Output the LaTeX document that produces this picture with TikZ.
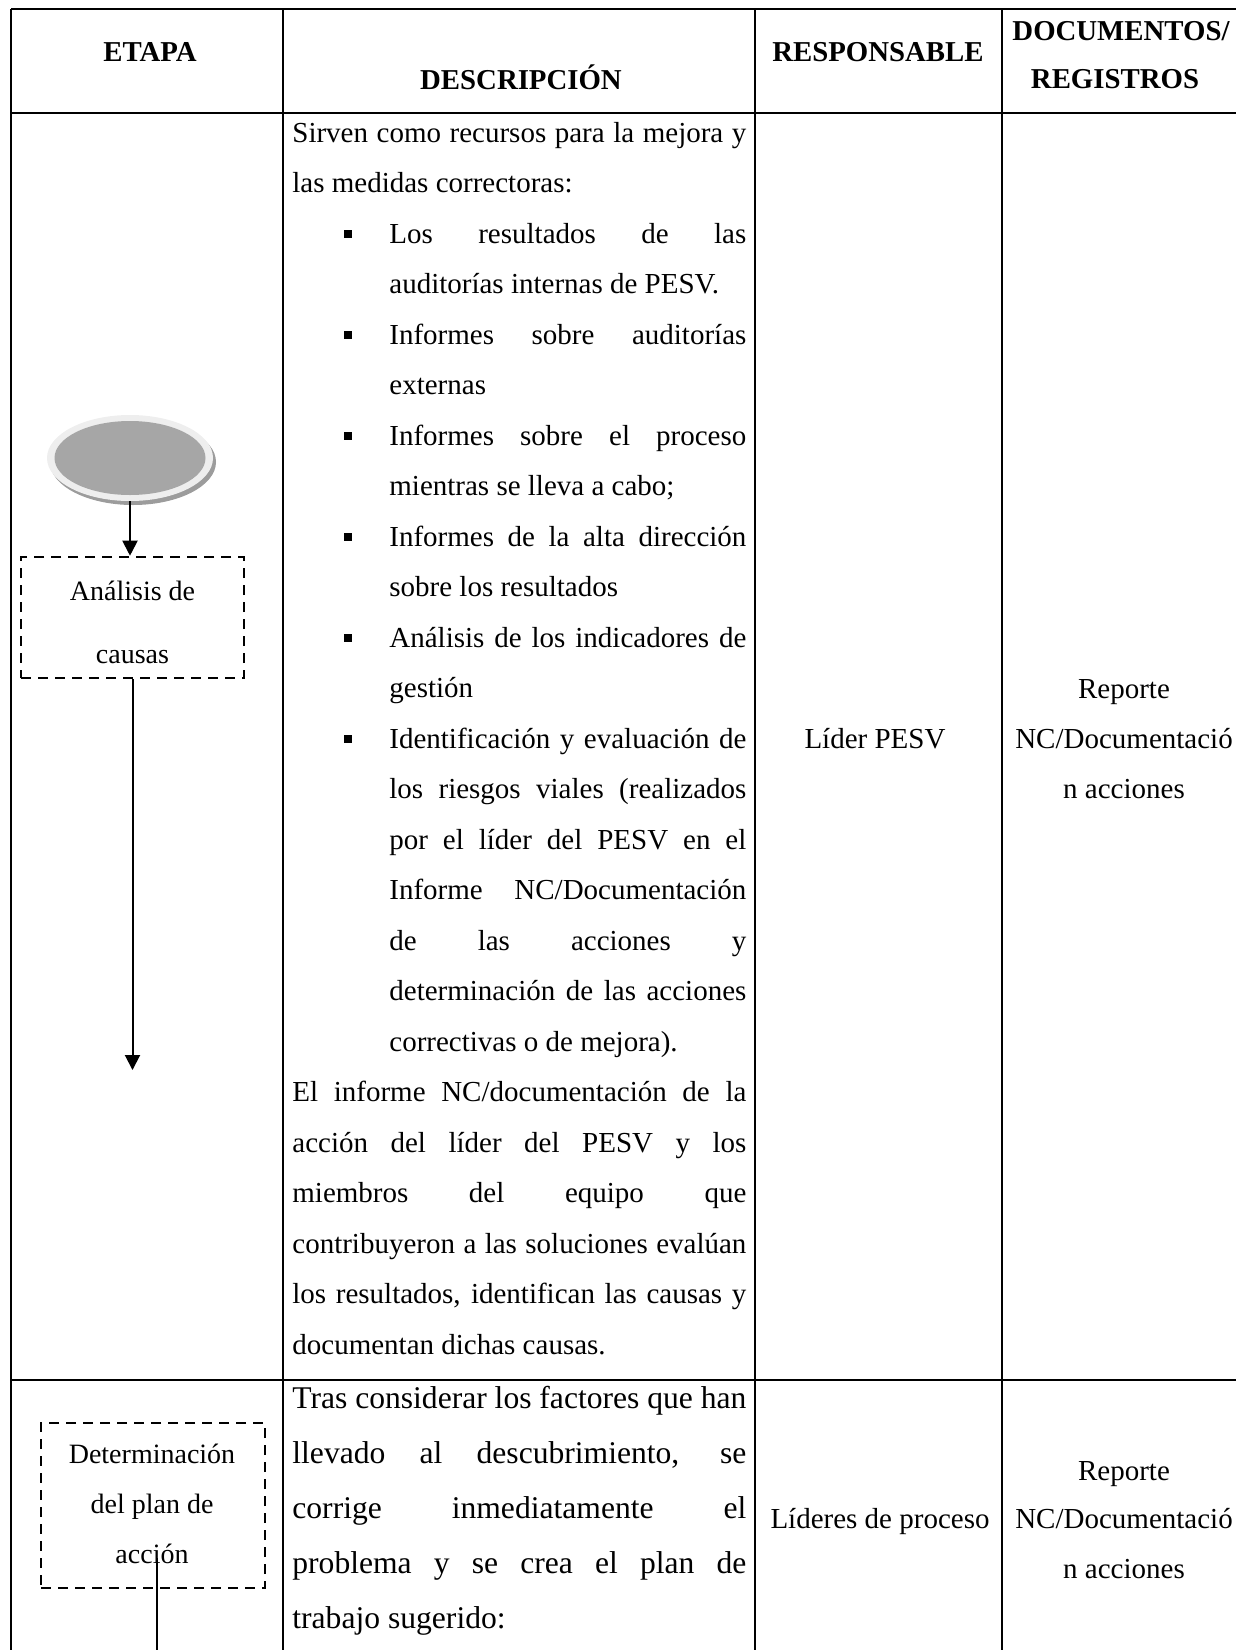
\documentclass[tikz,border=0pt]{standalone}
\usepackage{fontspec}
\setmainfont{Liberation Serif}
\usetikzlibrary{arrows.meta, shapes.geometric, shadows, positioning}
\definecolor{discgray}{HTML}{A6A6A6}
\definecolor{ringgray}{HTML}{EEEEEE}
\definecolor{shadegray}{HTML}{9C9C9C}
\newcommand{\jline}[2]{\makebox[#1][s]{#2}}

\begin{document}
\begin{tikzpicture}[x=0.5pt, y=-0.5pt,
  rule/.style={line width=1.3pt},
  head/.style={anchor=base, inner sep=0pt, font=\fontsize{14.4}{16}\selectfont\bfseries},
  body/.style={anchor=base west, inner sep=0pt, font=\fontsize{14.5}{17}\selectfont},
  bodybig/.style={body, font=\fontsize{15.8}{18}\selectfont},
  mid/.style={anchor=base, inner sep=0pt, font=\fontsize{14.5}{17}\selectfont},
  boxtext/.style={anchor=base, inner sep=0pt, font=\fontsize{14}{17}\selectfont},
  stagebox/.style={draw, line width=1.3pt, dash pattern=on 5pt off 3.5pt, inner sep=0pt},
  bullet/.style={fill, minimum size=4pt, inner sep=0pt},
  flow/.style={line width=1pt, -{Triangle[width=7.5pt,length=7.5pt]}}
]
\useasboundingbox (0,0) rectangle (1236,1650);

% table rules
\draw[rule] (11,9) -- (1245,9);
\draw[rule] (11,113) -- (1245,113);
\draw[rule] (11,1380) -- (1245,1380);
\foreach \xx in {11,283,755,1002}
  \draw[rule] (\xx,9) -- (\xx,1660);

% header
\node[head] (hEtapa) at (150,61) {ETAPA};
\node[head] (hDesc) at (521,89) {DESCRIPCIÓN};
\node[head] (hResp) at (878,61) {RESPONSABLE};
\node[head] (hDoc) at (1121,40) {DOCUMENTOS/};
\node[head] (hReg) at (1115,88) {REGISTROS};

% stage column
\node[ellipse, minimum width=83pt, minimum height=43pt, fill=ringgray,
  drop shadow={shadow xshift=1.5pt, shadow yshift=-2pt, fill=shadegray, opacity=1}] (start) at (130,458) {};
\node[ellipse, minimum width=75.5pt, minimum height=37pt, fill=discgray] (startcore) at (start.center) {};

\node[stagebox, minimum width=111.5pt, minimum height=60.5pt] (analisis) at (132.5,617.5) {};
\node[boxtext] (analisisA) at (132.5,600) {Análisis de};
\node[boxtext] (analisisB) at (132.5,663) {causas};

\draw[flow] (start.south) -- (start.south |- analisis.north);
\coordinate (analisisEnd) at (131,1070);
\draw[flow] (analisis.south) -- (analisis.south |- analisisEnd);

\node[stagebox, minimum width=112pt, minimum height=82.5pt] (plan) at (153,1505.5) {};
\node[boxtext] (planA) at (152,1463) {Determinación};
\node[boxtext] (planB) at (152,1513) {del plan de};
\node[boxtext] (planC) at (152,1563) {acción};

\coordinate (planTail) at (157,1558);
\coordinate (planEnd) at (157,1660);
\draw[line width=1pt] (planTail) -- (planEnd);

% description, first row
\node[body] (d1) at (292,142) {\jline{227pt}{Sirven como recursos para la mejora y}};
\node[body] (d2) at (292,192.5) {las medidas correctoras:};
\node[body] (d3) at (389,243) {\jline{178.5pt}{Los resultados de las}};
\node[body] (d4) at (389,293.5) {auditorías internas de PESV.};
\node[body] (d5) at (389,344) {\jline{178.5pt}{Informes sobre auditorías}};
\node[body] (d6) at (389,394.5) {externas};
\node[body] (d7) at (389,445) {\jline{178.5pt}{Informes sobre el proceso}};
\node[body] (d8) at (389,495.5) {mientras se lleva a cabo;};
\node[body] (d9) at (389,546) {\jline{178.5pt}{Informes de la alta dirección}};
\node[body] (d10) at (389,596.5) {sobre los resultados};
\node[body] (d11) at (389,647) {\jline{178.5pt}{Análisis de los indicadores de}};
\node[body] (d12) at (389,697.5) {gestión};
\node[body] (d13) at (389,748) {\jline{178.5pt}{Identificación y evaluación de}};
\node[body] (d14) at (389,798.5) {\jline{178.5pt}{los riesgos viales (realizados}};
\node[body] (d15) at (389,849) {\jline{178.5pt}{por el líder del PESV en el}};
\node[body] (d16) at (389,899.5) {\jline{178.5pt}{Informe NC/Documentación}};
\node[body] (d17) at (389,950) {\jline{178.5pt}{de las acciones y}};
\node[body] (d18) at (389,1000.5) {\jline{178.5pt}{determinación de las acciones}};
\node[body] (d19) at (389,1051) {correctivas o de mejora).};
\node[body] (d20) at (292,1101.5) {\jline{227pt}{El informe NC/documentación de la}};
\node[body] (d21) at (292,1152) {\jline{227pt}{acción del líder del PESV y los}};
\node[body] (d22) at (292,1202.5) {\jline{227pt}{miembros del equipo que}};
\node[body] (d23) at (292,1253) {\jline{227pt}{contribuyeron a las soluciones evalúan}};
\node[body] (d24) at (292,1303.5) {\jline{227pt}{los resultados, identifican las causas y}};
\node[body] (d25) at (292,1354) {documentan dichas causas.};

\foreach \yy [count=\i] in {243,344,445,546,647,748}
  \node[bullet] (b\i) at (347.5,\yy-9.5) {};

% description, second row
\node[bodybig] (e1) at (292,1408) {\jline{227pt}{Tras considerar los factores que han}};
\node[bodybig] (e2) at (292,1463) {\jline{227pt}{llevado al descubrimiento, se}};
\node[bodybig] (e3) at (292,1518) {\jline{227pt}{corrige inmediatamente el}};
\node[bodybig] (e4) at (292,1573) {\jline{227pt}{problema y se crea el plan de}};
\node[bodybig] (e5) at (292,1628) {trabajo sugerido:};

% responsible and records
\node[mid] (resp1) at (875,748) {Líder PESV};
\node[mid] (doc1a) at (1124,698) {Reporte};
\node[mid] (doc1b) at (1124,748) {NC/Documentació};
\node[mid] (doc1c) at (1124,798) {n acciones};

\node[mid] (resp2) at (880,1528) {Líderes de proceso};
\node[mid] (doc2a) at (1124,1480) {Reporte};
\node[mid] (doc2b) at (1124,1528) {NC/Documentació};
\node[mid] (doc2c) at (1124,1578) {n acciones};

\end{tikzpicture}
\end{document}
